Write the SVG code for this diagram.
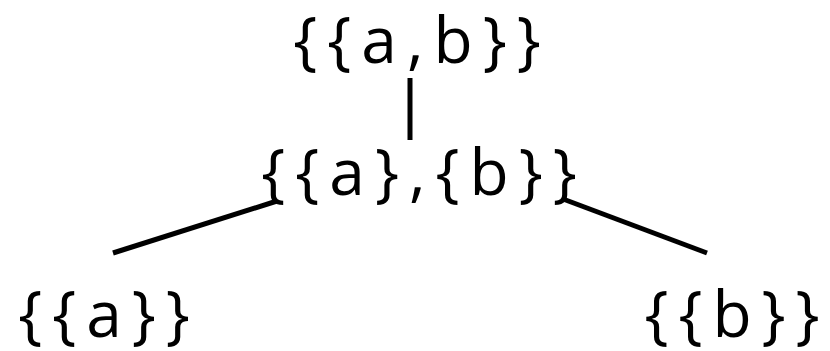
<svg xmlns="http://www.w3.org/2000/svg" width="830" height="351" viewBox="0 0 830 351">
<style>
text{font-family:"Open Sans","DejaVu Sans",sans-serif;font-size:64px;fill:#000;text-anchor:middle;letter-spacing:10px}
line{stroke:#000;stroke-width:5}
</style>
<rect width="830" height="351" fill="#fff"/>
<g id="connectors">
<line x1="410" y1="78" x2="410" y2="140"/>
<line x1="113" y1="253" x2="277" y2="201"/>
<line x1="563" y1="199" x2="707" y2="253"/>
</g>
<g id="n-ab"><text x="422" y="63">{{a,b}}</text></g>
<g id="n-a-b"><text x="424" y="195">{{a},{b}}</text></g>
<g id="n-a"><text x="109" y="337">{{a}}</text></g>
<g id="n-b"><text x="737" y="337">{{b}}</text></g>
</svg>
